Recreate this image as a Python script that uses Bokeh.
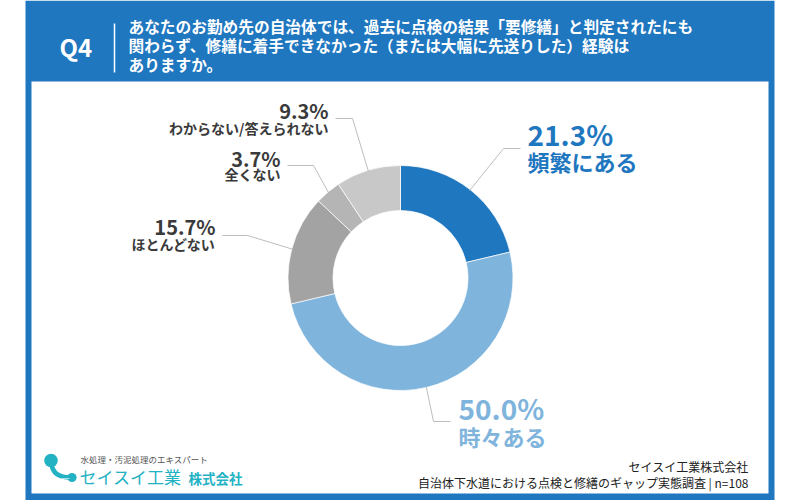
import numpy as np
from bokeh.plotting import figure
from bokeh.models import Range1d, ColumnDataSource
from bokeh.embed import file_html
from bokeh.resources import INLINE
from bokeh.core.properties import value

# ---- data -------------------------------------------------------------
question_no = "Q4"
question_lines = [
    "あなたのお勤め先の自治体では、過去に点検の結果「要修繕」と判定されたにも",
    "関わらず、修繕に着手できなかった（または大幅に先送りした）経験は",
    "ありますか。",
]
categories = ["頻繁にある", "時々ある", "ほとんどない", "全くない", "わからない/答えられない"]
shares = [21.3, 50.0, 15.7, 3.7, 9.3]
colors = ["#1f77c0", "#7fb4dc", "#a3a3a3", "#b5b5b5", "#c8c8c8"]
label_colors = ["#1f77c0", "#7fb4dc", "#3a3a3a", "#3a3a3a", "#3a3a3a"]
company = "セイスイ工業株式会社"
survey_title = "自治体下水道における点検と修繕のギャップ実態調査"
sample_size = 108
logo_tagline = "水処理・汚泥処理のエキスパート"
logo_name = "セイスイ工業"
logo_suffix = "株式会社"

# ---- layout -----------------------------------------------------------
W, H = 800, 500
BLUE = "#1f77c0"
TEAL = "#22b2c3"
JP = value("Noto Sans CJK JP")


def Y(y):
    """Convert a top-down page coordinate to the plot's bottom-up y."""
    return H - y


p = figure(width=W, height=H, x_range=Range1d(0, W), y_range=Range1d(0, H),
           output_backend="svg", toolbar_location=None, min_border=0,
           background_fill_color="white", border_fill_color="white")
p.axis.visible = False
p.grid.visible = False
p.outline_line_color = None

# frame: blue band with a white card inside
p.quad(left=[25], right=[774], top=[Y(0)], bottom=[Y(500)],
       fill_color=BLUE, line_color=None)
p.quad(left=[31], right=[768], top=[Y(81)], bottom=[Y(493)],
       fill_color="white", line_color=None)

# header
p.text(x=[59], y=[Y(46)], text=[question_no], text_font=JP, text_font_style="bold",
       text_font_size="24px", text_color="white", text_baseline="middle", text_align="left")
p.line(x=[114, 114], y=[Y(23), Y(72)], line_color="white", line_width=1.5)
p.text(x=[128] * 3, y=[Y(26), Y(44.5), Y(63.5)], text=question_lines, text_font=JP,
       text_font_style="bold", text_font_size="15.7px", text_color="white",
       text_baseline="middle", text_align="left")

# ---- donut ------------------------------------------------------------
CX, CY = 400, 277.5
R_IN, R_OUT = 67.5, 112.5

frac = np.array(shares) / 100.0
c1 = np.cumsum(frac)
c0 = c1 - frac
start = np.pi / 2 - 2 * np.pi * c0
end = np.pi / 2 - 2 * np.pi * c1
mid = (start + end) / 2

src = ColumnDataSource(dict(x=[CX] * len(shares), y=[Y(CY)] * len(shares),
                            start=start, end=end, color=colors))
p.annular_wedge(x="x", y="y", inner_radius=R_IN, outer_radius=R_OUT,
                start_angle="start", end_angle="end", direction="clock",
                fill_color="color", line_color="white", line_width=0.7, source=src)

# leader elbows, line ends and label anchors (page coordinates)
elbows = [(503, 148), (433, 421), (247, 235), (313, 165), (352, 118)]
line_ends = [520, 450, 222, 287, 335]
anchors = [(527, 133, 160), (458, 407, 435), (215, 226, 243), (280, 158, 173), (328, 110, 127)]
aligns = ["left", "left", "right", "right", "right"]
pct_sizes = ["28px", "28px", "20px", "20px", "20px"]
name_sizes = ["22px", "22px", "14px", "14px", "14px"]

for i, share in enumerate(shares):
    sx = CX + (R_OUT - 1) * np.cos(mid[i])
    sy = CY - (R_OUT - 1) * np.sin(mid[i])
    ex, ey = elbows[i]
    p.line(x=[sx, ex, line_ends[i]], y=[Y(sy), Y(ey), Y(ey)],
           line_color="#bdbdbd", line_width=1)
    ax, py, ny = anchors[i]
    p.text(x=[ax], y=[Y(py)], text=[f"{share:.1f}%"], text_font=JP, text_font_style="bold",
           text_font_size=pct_sizes[i], text_color=label_colors[i],
           text_align=aligns[i], text_baseline="middle")
    p.text(x=[ax], y=[Y(ny)], text=[categories[i]], text_font=JP, text_font_style="bold",
           text_font_size=name_sizes[i], text_color=label_colors[i],
           text_align=aligns[i], text_baseline="middle")

# ---- footer -----------------------------------------------------------
# logo mark
p.circle(x=[50.5], y=[Y(460)], radius=6.8, fill_color=TEAL, line_color=None)
p.circle(x=[71.5], y=[Y(477)], radius=4.6, fill_color=TEAL, line_color=None)
p.bezier(x0=[51], y0=[Y(463)], x1=[70], y1=[Y(477)], cx0=[52], cy0=[Y(474)],
         cx1=[60], cy1=[Y(477)], line_color=TEAL, line_width=4.5)
p.line(x=[60, 69], y=[Y(478), Y(478)], line_color="#a9e0e6", line_width=1)

p.text(x=[80], y=[Y(458.5)], text=[logo_tagline], text_font=JP, text_font_size="8.5px",
       text_color="#555555", text_baseline="middle", text_align="left")
p.text(x=[79], y=[Y(476)], text=[logo_name], text_font=JP, text_font_size="17px",
       text_color=TEAL, text_baseline="middle", text_align="left")
p.text(x=[188], y=[Y(477.5)], text=[logo_suffix], text_font=JP, text_font_style="bold",
       text_font_size="13.5px", text_color=TEAL, text_baseline="middle", text_align="left")

p.text(x=[748, 748], y=[Y(466), Y(481.5)],
       text=[company, f"{survey_title} | n={sample_size}"], text_font=JP,
       text_font_size="12px", text_color="#222222", text_baseline="middle",
       text_align="right")

open("out.html", "w").write(file_html(p, INLINE))
